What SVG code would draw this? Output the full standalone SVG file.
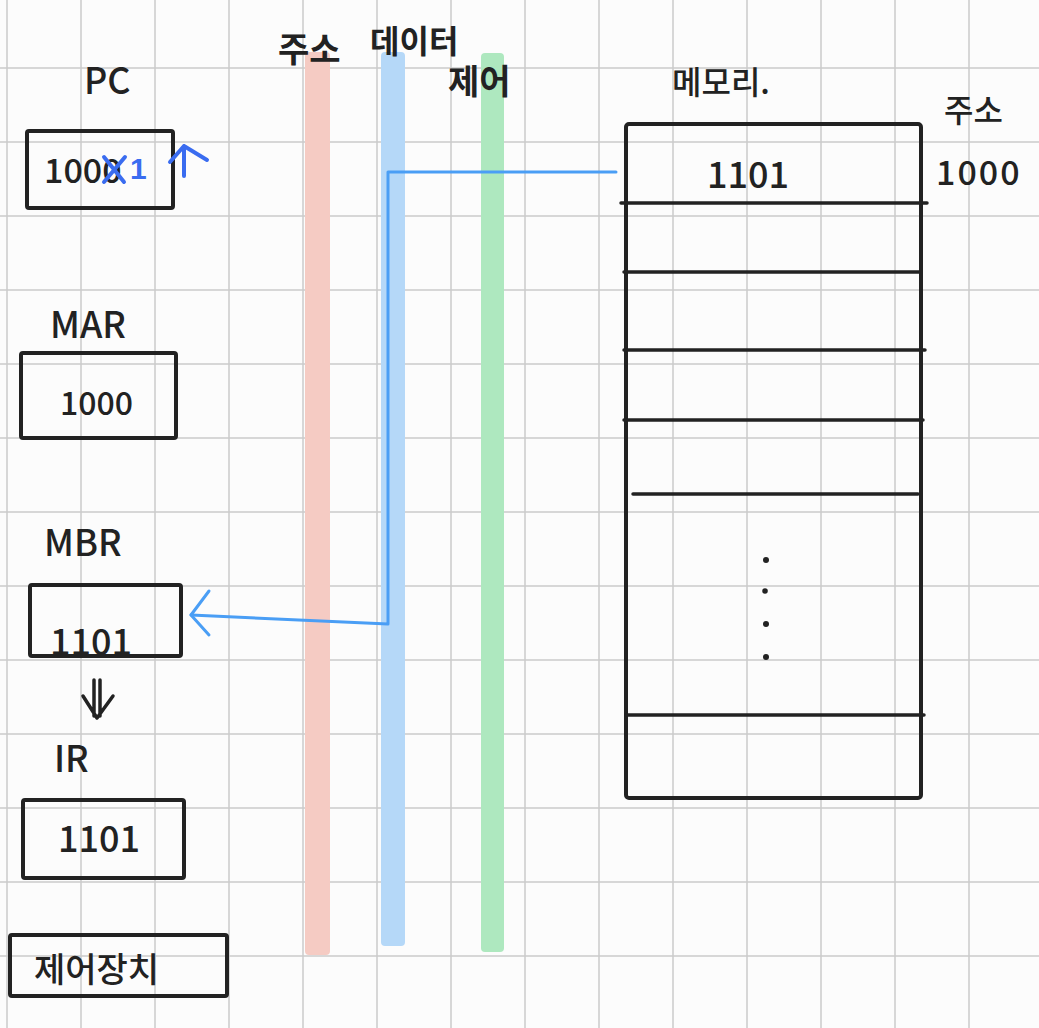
<svg xmlns="http://www.w3.org/2000/svg" width="1039" height="1028" viewBox="0 0 1039 1028">
<style>
.grid line{stroke:#cbcbcb;stroke-width:1.5}
.box{fill:none;stroke:#222;stroke-width:4;stroke-linejoin:round}
.ln{stroke:#222;stroke-width:3.5;stroke-linecap:round}
.t{font-family:"Noto Sans CJK KR","Liberation Sans",sans-serif;fill:#222;font-weight:500}
.tb{font-weight:bold}
.blue{stroke:#4a9ef5;stroke-width:3;fill:none;stroke-linecap:round;stroke-linejoin:round}
.pcmark{stroke:#3a6cf0;stroke-width:4;fill:none;stroke-linecap:round;stroke-linejoin:round}
.bt{font-family:"Liberation Sans",sans-serif;fill:#3a6cf0;font-weight:bold}
</style>
<rect width="1039" height="1028" fill="#fcfcfc"/>
<g class="grid">
<line x1="7" y1="0" x2="7" y2="1028"/><line x1="81" y1="0" x2="81" y2="1028"/><line x1="155" y1="0" x2="155" y2="1028"/><line x1="229" y1="0" x2="229" y2="1028"/><line x1="303" y1="0" x2="303" y2="1028"/><line x1="377" y1="0" x2="377" y2="1028"/><line x1="451" y1="0" x2="451" y2="1028"/><line x1="525" y1="0" x2="525" y2="1028"/><line x1="599" y1="0" x2="599" y2="1028"/><line x1="673" y1="0" x2="673" y2="1028"/><line x1="747" y1="0" x2="747" y2="1028"/><line x1="821" y1="0" x2="821" y2="1028"/><line x1="895" y1="0" x2="895" y2="1028"/><line x1="969" y1="0" x2="969" y2="1028"/>
<line x1="0" y1="68" x2="1039" y2="68"/><line x1="0" y1="142" x2="1039" y2="142"/><line x1="0" y1="216" x2="1039" y2="216"/><line x1="0" y1="290" x2="1039" y2="290"/><line x1="0" y1="364" x2="1039" y2="364"/><line x1="0" y1="438" x2="1039" y2="438"/><line x1="0" y1="512" x2="1039" y2="512"/><line x1="0" y1="586" x2="1039" y2="586"/><line x1="0" y1="660" x2="1039" y2="660"/><line x1="0" y1="734" x2="1039" y2="734"/><line x1="0" y1="808" x2="1039" y2="808"/><line x1="0" y1="882" x2="1039" y2="882"/><line x1="0" y1="956" x2="1039" y2="956"/>
</g>
<g id="bus-address">
<rect x="305" y="52" width="25" height="903" rx="4" fill="#f5cbc3"/>
<text class="t tb" x="278" y="62" font-size="34">주소</text>
</g>
<g id="bus-data">
<rect x="381" y="52" width="24" height="894" rx="4" fill="#b5d8f8"/>
<text class="t tb" x="370" y="53" font-size="32">데이터</text>
</g>
<g id="bus-control">
<rect x="481" y="53" width="23" height="899" rx="4" fill="#aee8bf"/>
<text class="t tb" x="448" y="94" font-size="34">제어</text>
</g>
<g id="pc">
<text class="t" x="84" y="94" font-size="36">PC</text>
<rect class="box" x="27" y="131" width="146" height="77" rx="2"/>
<text class="t" x="44" y="183" font-size="34">1000</text>
<path class="pcmark" d="M104 157 L124 182 M125 157 L104 182"/>
<text class="bt" x="130" y="179" font-size="30">1</text>
<path class="pcmark" d="M184 176 L184 146 M170 162 L184 146 L207 160"/>
</g>
<g id="mar">
<text class="t" x="50" y="338" font-size="36">MAR</text>
<rect class="box" x="21" y="353" width="155" height="85" rx="2"/>
<text class="t" x="60" y="415" font-size="32">1000</text>
</g>
<g id="mbr">
<text class="t" x="44" y="556" font-size="36">MBR</text>
<rect class="box" x="30" y="585" width="151" height="71" rx="2"/>
<text class="t" x="50" y="655" font-size="36">1101</text>
</g>
<g id="ir">
<text class="t" x="54" y="772" font-size="36">IR</text>
<rect class="box" x="23" y="800" width="161" height="78" rx="2"/>
<text class="t" x="58" y="852" font-size="36">1101</text>
</g>
<g id="control-unit">
<rect class="box" x="10" y="935" width="217" height="61" rx="2"/>
<text class="t" x="34" y="982" font-size="34">제어장치</text>
</g>
<g id="memory">
<text class="t" x="672" y="94" font-size="32">메모리.</text>
<text class="t" x="944" y="122" font-size="32">주소</text>
<text class="t" x="936" y="185" font-size="34" letter-spacing="2">1000</text>
<rect class="box" x="626" y="124" width="295" height="674" rx="3"/>
<line class="ln" x1="621" y1="203" x2="927" y2="203"/>
<line class="ln" x1="624" y1="272" x2="919" y2="272"/>
<line class="ln" x1="624" y1="350" x2="925" y2="350"/>
<line class="ln" x1="624" y1="420" x2="923" y2="420"/>
<line class="ln" x1="633" y1="494" x2="918" y2="494"/>
<line class="ln" x1="626" y1="715" x2="924" y2="715"/>
<text class="t" x="707" y="188" font-size="36">1101</text>
<g fill="#222"><circle cx="766" cy="560" r="3"/><circle cx="765" cy="591" r="2.8"/><circle cx="766" cy="624" r="3"/><circle cx="766" cy="657" r="3"/></g>
</g>
<g id="ir-arrow">
<path d="M94 680 L94 716 M100 680 L100 716 M83 696 L97 718 L113 696" fill="none" stroke="#222" stroke-width="3.5" stroke-linecap="round" stroke-linejoin="round"/>
</g>
<g id="connectors">
<path class="blue" d="M616 172 L388 172 L388 624 L191 615"/>
<path class="blue" d="M209 591 L191 615 L209 635"/>
</g>
</svg>
